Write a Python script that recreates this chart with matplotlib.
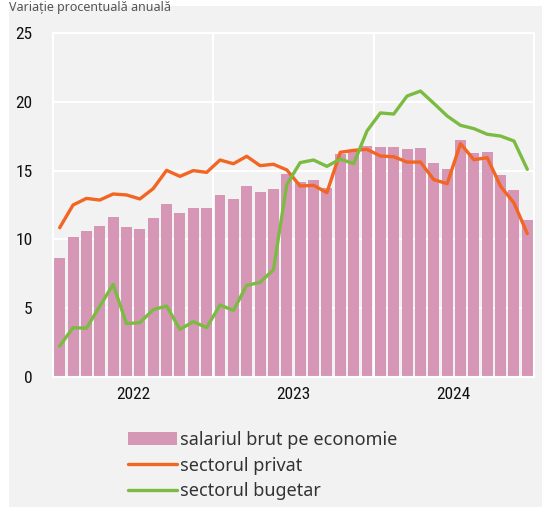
import matplotlib
matplotlib.use("Agg")
import matplotlib.pyplot as plt
from matplotlib.patches import Rectangle
from matplotlib import font_manager
import numpy as np

years = ["2022", "2023", "2024"]
salariul_brut = [8.65, 10.17, 10.61, 10.97, 11.6, 10.93, 10.78, 11.58, 12.6, 11.89, 12.31, 12.28,
                 13.23, 12.94, 13.86, 13.42, 13.66, 14.78, 14.2, 14.29, 13.76, 16.18, 16.5, 16.76,
                 16.72, 16.69, 16.57, 16.64, 15.55, 15.12, 17.22, 16.3, 16.35, 14.66, 13.61, 11.43]
sectorul_privat = [10.85, 12.5, 12.98, 12.86, 13.3, 13.23, 12.94, 13.69, 15.02, 14.58, 15.0, 14.87,
                   15.77, 15.5, 16.04, 15.36, 15.46, 15.05, 13.88, 13.93, 13.4, 16.33, 16.47, 16.55,
                   16.06, 16.01, 15.62, 15.62, 14.34, 14.05, 16.96, 15.79, 15.94, 13.86, 12.65, 10.42]
sectorul_bugetar = [2.25, 3.59, 3.54, 5.14, 6.73, 3.88, 3.95, 4.89, 5.16, 3.46, 4.02, 3.59,
                    5.23, 4.84, 6.66, 6.88, 7.8, 14.0, 15.58, 15.77, 15.31, 15.84, 15.5, 17.88,
                    19.19, 19.11, 20.42, 20.78, 19.89, 18.97, 18.29, 18.05, 17.64, 17.51, 17.15, 15.09]
labels = ["salariul brut pe economie", "sectorul privat", "sectorul bugetar"]
title = "Variație procentuală anuală"

available = {f.name for f in font_manager.fontManager.ttflist}
tickfont = [f for f in ["Roboto Condensed", "Liberation Sans Narrow", "Lato"] if f in available] + ["DejaVu Sans"]

W, H = 542, 507
fig = plt.figure(figsize=(W / 100, H / 100), dpi=100)
fig.patch.set_facecolor("white")
bg = "#f2f2f2"
rect = Rectangle((9 / W, 0), 1 - 9 / W, 1 - 6 / H, transform=fig.transFigure,
                 facecolor=bg, edgecolor="none", zorder=-10)
fig.add_artist(rect)
fig.text(9 / W, 1 - 0.5 / H, title, ha="left", va="top", fontsize=9, color="#555555",
         family=["Noto Sans", "DejaVu Sans"], zorder=5)

ax = fig.add_axes([53 / W, 1 - 377 / H, 481 / W, 344 / H])
ax.set_zorder(1)
ax.set_facecolor(bg)
x = np.arange(len(salariul_brut))
pink, orange, green = "#d597b5", "#f26522", "#7cbb42"
ax.bar(x, salariul_brut, width=0.82, color=pink, zorder=2, label=labels[0])
ax.plot(x, sectorul_privat, color=orange, lw=2.4, zorder=3, label=labels[1], solid_capstyle="round")
ax.plot(x, sectorul_bugetar, color=green, lw=2.4, zorder=3, label=labels[2], solid_capstyle="round")

ax.set_xlim(-0.5, len(x) - 0.5)
ax.set_ylim(0, 25)
ax.set_yticks([0, 5, 10, 15, 20, 25])
ax.grid(axis="y", color="white", lw=1.5, zorder=1)
ax.set_axisbelow(True)
for b in [11.5, 23.5]:
    ax.axvline(b, color="white", lw=1.5, zorder=1)
ax.set_xticks([5.5, 17.5, 29.5])
ax.set_xticklabels(years)
for t in ax.get_xticklabels() + ax.get_yticklabels():
    t.set_family(tickfont)
    t.set_fontsize(12.5)
    t.set_color("#111111")
ax.tick_params(axis="both", length=0)
ax.tick_params(axis="y", pad=14.5)
ax.tick_params(axis="x", pad=7.5)
for s in ax.spines.values():
    s.set_color("white")
    s.set_linewidth(1.5)

h, l = ax.get_legend_handles_labels()
handles = {lab: hd for hd, lab in zip(h, l)}
leg = fig.legend([handles[k] for k in labels], labels, loc="upper left",
                 bbox_to_anchor=(128 / W, 1 - 431 / H), frameon=False,
                 prop={"family": ["Noto Sans", "DejaVu Sans"], "size": 13},
                 handlelength=2.7, handleheight=0.75, handletextpad=0.2, labelspacing=0.42,
                 borderaxespad=0, borderpad=0)
for t in leg.get_texts():
    t.set_color("#333333")

fig.savefig("out.png", dpi=100, facecolor=fig.get_facecolor())
